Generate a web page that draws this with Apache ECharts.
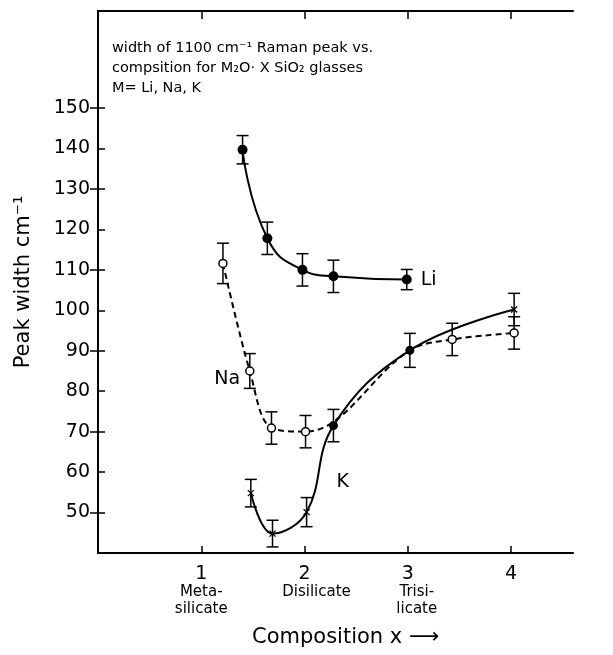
<!DOCTYPE html>
<html><head><meta charset="utf-8">
<script src="https://cdn.jsdelivr.net/npm/echarts@6/dist/echarts.min.js"></script>
<style>html,body{margin:0;padding:0;background:#fff}#c{width:613px;height:655px}</style>
</head><body><div id="c"></div>
<script>
// ---- data ----
const xTicks = [1, 2, 3, 4];
const xTickNames = ['Meta-\nsilicate', 'Disilicate', 'Trisi-\nlicate', ''];
const yTicks = [50, 60, 70, 80, 90, 100, 110, 120, 130, 140, 150];
const yRightTicks = [50, 70, 90, 110, 130, 150];

// Li (filled circles, solid curve)
const liX = [1.40, 1.64, 1.98, 2.28, 2.99];
const liY = [139.7, 117.8, 110.0, 108.4, 107.6];
const liErr = [3.5, 4.0, 4.0, 4.0, 2.5];

// Na (open circles, dashed curve)
const naX = [1.21, 1.47, 1.68, 2.01, 3.43, 4.03];
const naY = [111.6, 85.0, 70.9, 70.0, 92.8, 94.4];
const naErr = [5.0, 4.3, 4.0, 4.0, 4.0, 4.0];
const naCurveX = [1.21, 1.47, 1.68, 2.01, 3.02, 3.43, 4.03];
const naCurveY = [111.6, 85.0, 70.9, 70.0, 90.1, 92.8, 94.4];

// K (crosses + filled circles, solid curve)
const kX = [1.48, 1.69, 2.02, 4.03];
const kY = [54.8, 44.8, 50.1, 100.2];
const kErr = [3.4, 3.3, 3.6, 4.0];
const kDotX = [2.28, 3.02];
const kDotY = [71.5, 90.1];
const kDotErr = [4.0, 4.2];
const kCurveX = [1.48, 1.69, 2.02, 2.28, 3.02, 4.03];
const kCurveY = [54.8, 44.8, 50.1, 71.5, 90.1, 100.2];

// ---- build ----
const FONT = 'DejaVu Sans';
const zip = (xs, ys) => xs.map((x, i) => [x, ys[i]]);
const errs = (xs, ys, es) => xs.map((x, i) => [x, ys[i] - es[i], ys[i] + es[i]]);
const errData = [].concat(errs(liX, liY, liErr), errs(naX, naY, naErr), errs(kX, kY, kErr), errs(kDotX, kDotY, kDotErr));

const chart = echarts.init(document.getElementById('c'));
chart.setOption({
  animation: false,
  backgroundColor: '#fff',
  textStyle: { fontFamily: FONT, color: '#000' },
  grid: { left: 98, right: 40, top: 11, bottom: 102 },
  xAxis: [{
    type: 'value', min: 0, max: 4.6, position: 'bottom',
    axisLine: { lineStyle: { color: '#000', width: 2 } },
    splitLine: { show: false },
    axisTick: { inside: true, length: 7, customValues: xTicks, lineStyle: { color: '#000', width: 1.5 } },
    axisLabel: {
      customValues: xTicks, margin: 12, color: '#000', fontFamily: FONT,
      formatter: v => {
        const i = xTicks.indexOf(v);
        const nm = xTickNames[i];
        return '{n|' + v + '}' + (nm ? '\n' + nm.split('\n').map(t => '{s' + i + '|' + t + '}').join('\n') : '');
      },
      rich: {
        n: { fontSize: 19, lineHeight: 19, fontFamily: FONT },
        s0: { fontSize: 15, lineHeight: 17, fontFamily: FONT },
        s1: { fontSize: 15, lineHeight: 17, fontFamily: FONT, padding: [0, 0, 0, 24] },
        s2: { fontSize: 15, lineHeight: 17, fontFamily: FONT, padding: [0, 0, 0, 18] },
        s3: { fontSize: 15, lineHeight: 17, fontFamily: FONT }
      }
    }
  }, {
    type: 'value', min: 0, max: 4.6, position: 'top',
    axisLine: { lineStyle: { color: '#000', width: 2 } },
    splitLine: { show: false },
    axisTick: { inside: true, length: 8, customValues: xTicks, lineStyle: { color: '#000', width: 1.5 } },
    axisLabel: { show: false }
  }],
  yAxis: [{
    type: 'value', min: 40, max: 174, position: 'left',
    name: 'Peak width cm\u207B\u00B9', nameLocation: 'middle', nameRotate: 90, nameGap: 64,
    nameTextStyle: { fontSize: 21, color: '#000', fontFamily: FONT },
    axisLine: { show: true, lineStyle: { color: '#000', width: 2 } },
    splitLine: { show: false },
    axisTick: { show: true, inside: true, length: 7, customValues: yTicks, lineStyle: { color: '#000', width: 1.5 } },
    axisLabel: { customValues: yTicks, fontSize: 19, margin: 8, color: '#000', fontFamily: FONT }
  }, {
    type: 'value', min: 40, max: 174, position: 'right',
    axisLine: { show: true, lineStyle: { color: '#000', width: 2 } },
    splitLine: { show: false },
    axisTick: { show: true, inside: true, length: 8, customValues: yRightTicks, lineStyle: { color: '#000', width: 1.5 } },
    axisLabel: { show: false }
  }],
  graphic: [{
    type: 'text', left: 112, top: 38,
    style: {
      text: 'width of 1100 cm\u207B\u00B9 Raman peak vs.\ncompsition for M\u2082O\u00B7 X SiO\u2082 glasses\nM= Li, Na, K',
      font: '14.5px "' + FONT + '"', fill: '#000', lineHeight: 20
    }
  }, {
    type: 'text', left: 252, top: 627,
    style: { text: 'Composition x \u27F6', font: '21px "' + FONT + '"', fill: '#000' }
  }],
  series: [{
    type: 'line', name: 'Li curve', data: zip(liX, liY), smooth: 0.5, showSymbol: false,
    lineStyle: { color: '#000', width: 2 }, z: 2
  }, {
    type: 'line', name: 'Na curve', data: zip(naCurveX, naCurveY), smooth: 0.35, showSymbol: false,
    lineStyle: { color: '#000', width: 2, type: [6, 4] }, z: 2
  }, {
    type: 'line', name: 'K curve', data: zip(kCurveX, kCurveY), smooth: 0.4, showSymbol: false,
    lineStyle: { color: '#000', width: 2 }, z: 2
  }, {
    type: 'custom', name: 'errors', data: errData, z: 3,
    renderItem: (params, api) => {
      const x = api.value(0);
      const lo = api.coord([x, api.value(1)]);
      const hi = api.coord([x, api.value(2)]);
      const w = 6;
      const st = { stroke: '#000', lineWidth: 1.5 };
      return { type: 'group', children: [
        { type: 'line', shape: { x1: lo[0], y1: lo[1], x2: hi[0], y2: hi[1] }, style: st },
        { type: 'line', shape: { x1: lo[0] - w, y1: lo[1], x2: lo[0] + w, y2: lo[1] }, style: st },
        { type: 'line', shape: { x1: hi[0] - w, y1: hi[1], x2: hi[0] + w, y2: hi[1] }, style: st }
      ] };
    }
  }, {
    type: 'scatter', name: 'Li', data: zip(liX, liY), symbol: 'circle', symbolSize: 10, z: 5,
    itemStyle: { color: '#000', opacity: 1 },
    label: { show: true, position: 'right', distance: 9, fontSize: 19, color: '#000', fontFamily: FONT,
      formatter: p => p.dataIndex === liX.length - 1 ? 'Li' : '' }
  }, {
    type: 'scatter', name: 'Na', data: zip(naX, naY), symbol: 'circle', symbolSize: 8, z: 5,
    itemStyle: { color: '#fff', borderColor: '#000', borderWidth: 1.5, opacity: 1 },
    label: { show: true, position: 'left', distance: 5, offset: [0, 8], fontSize: 19, color: '#000', fontFamily: FONT,
      formatter: p => p.dataIndex === 1 ? 'Na' : '' }
  }, {
    type: 'scatter', name: 'K', data: zip(kX, kY), symbol: 'path://M0,0L10,10M10,0L0,10', symbolSize: 6, z: 5,
    itemStyle: { color: 'none', borderColor: '#000', borderWidth: 1.3, opacity: 1 },
    markPoint: { symbol: 'circle', symbolSize: 1, itemStyle: { color: 'rgba(0,0,0,0)' },
      data: [{ coord: [2.37, 57.5] }],
      label: { show: true, position: 'inside', formatter: 'K', fontSize: 19, color: '#000', fontFamily: FONT } }
  }, {
    type: 'scatter', name: 'K dots', data: zip(kDotX, kDotY), symbol: 'circle', symbolSize: 9, z: 5,
    itemStyle: { color: '#000', opacity: 1 }
  }]
});
</script></body></html>
